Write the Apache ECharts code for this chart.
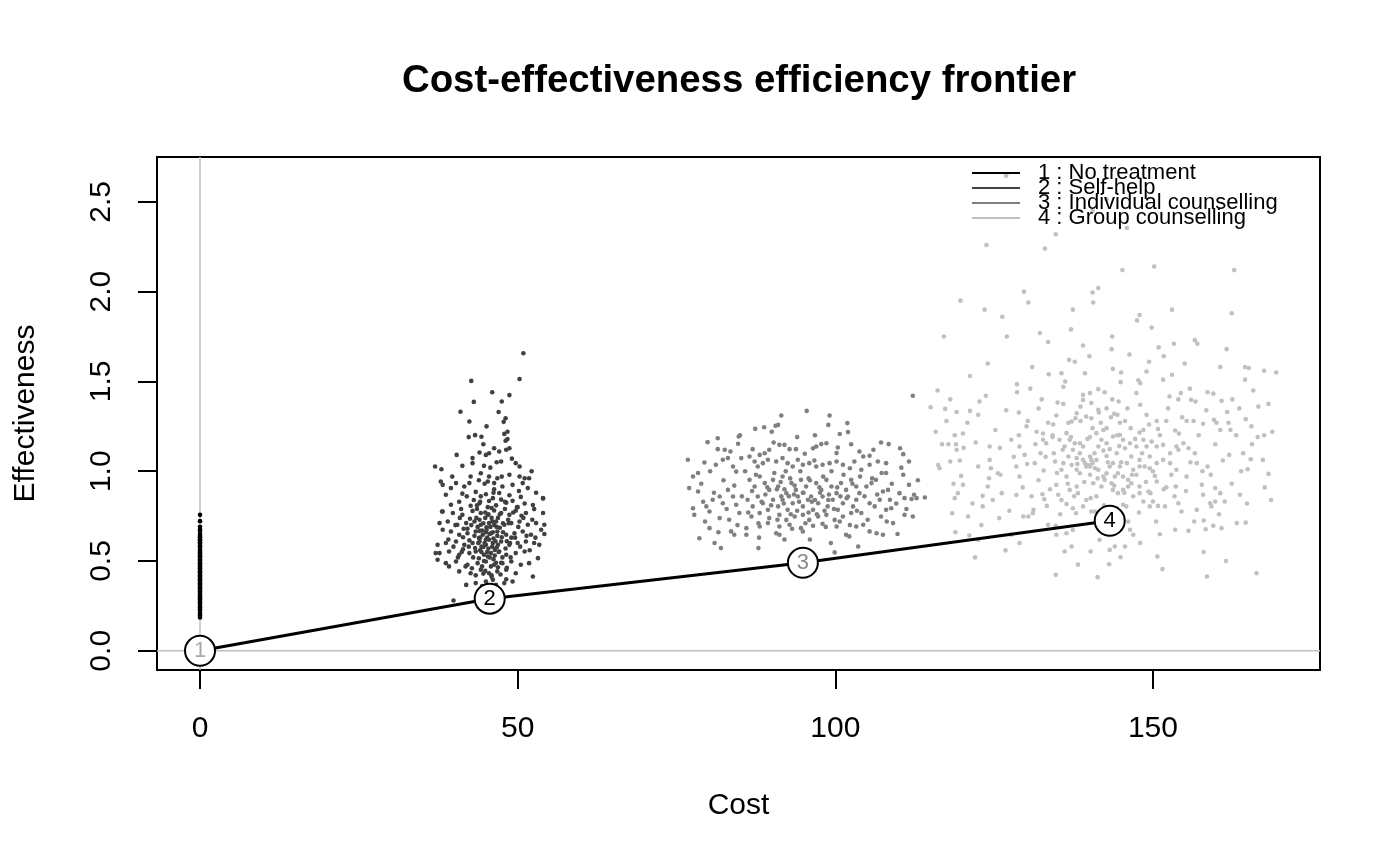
<!DOCTYPE html>
<html>
<head>
<meta charset="utf-8">
<script src="https://cdn.jsdelivr.net/npm/echarts@6/dist/echarts.min.js"></script>
<style>html,body{margin:0;padding:0;background:#fff}#c{width:1400px;height:866px}</style>
</head>
<body>
<div id="c"></div>
<script>
// ---------- data ----------
const seriesNames = ['1 : No treatment', '2 : Self-help', '3 : Individual counselling', '4 : Group counselling'];
const seriesColors = ['#000000', '#404040', '#808080', '#c0c0c0'];
const xTicks = [0, 50, 100, 150];
const yTicks = [0, 0.5, 1, 1.5, 2, 2.5];
const xMin = -6.77, xMax = 176.3, yMin = -0.107, yMax = 2.75;

// frontier (strategies on the efficiency frontier)
const frontierLabels = ['1', '2', '3', '4'];
const frontierCost = [0, 45.6, 94.9, 143.2];
const frontierEff = [0, 0.29, 0.49, 0.724];
const frontierLabelColors = ['#a8a8a8', '#000000', '#8a8a8a', '#000000'];

// group 1: cost is 0 for every simulation
const g1Cost = 0;
const g1Eff = [0.757,0.722,0.691,0.676,0.668,0.652,0.641,0.633,0.621,0.615,0.604,0.597,0.588,0.579,0.574,0.563,0.556,0.548,0.541,0.533,0.527,0.519,0.508,0.503,0.495,0.487,0.481,0.472,0.466,0.458,0.451,0.443,0.437,0.429,0.421,0.414,0.405,0.399,0.391,0.384,0.376,0.369,0.361,0.353,0.347,0.338,0.331,0.323,0.316,0.307,0.301,0.293,0.286,0.277,0.269,0.262,0.251,0.243,0.232,0.221,0.208,0.196,0.186];

const g2Points = [
[50.9,1.657],[50.3,1.514],[42.7,1.503],[46.0,1.44],[48.7,1.424],[43.1,1.386],[47.5,1.388],[41.0,1.331],[42.4,1.277],[48.1,1.295],[47.8,1.275],[47.9,1.208],[42.3,1.19],[43.3,1.201],[44.3,1.192],[48.4,1.179],[48.1,1.17],
[40.4,1.091],[42.9,1.073],[44.0,1.104],[45.5,1.1],[46.3,1.128],[47.1,1.11],[48.2,1.12],[48.7,1.128],[45.0,1.091],[47.4,1.054],[49.7,1.045],[50.3,1.026],[37.0,1.026],[38.0,1.011],[41.3,1.03],[42.9,1.045],[44.7,1.03],[42.6,0.971],[44.2,0.989],[45.5,0.971],[46.8,0.961],[48.7,0.98],[50.3,0.971],[51.1,0.961],[51.8,0.961],
[37.9,0.943],[38.2,0.924],[39.5,0.906],[40.3,0.934],[41.6,0.915],[42.4,0.934],[45.3,0.943],[46.3,0.934],[47.6,0.915],[49.2,0.924],[50.8,0.934],[51.6,0.906],
[38.7,0.869],[41.3,0.875],[43.4,0.885],[45.0,0.872],[47.1,0.879],[48.7,0.866],[50.5,0.857],[52.9,0.88],[44.2,0.86],[46.1,0.85],
[39.5,0.813],[40.8,0.83],[42.6,0.808],[44.0,0.822],[45.5,0.834],[46.6,0.81],[48.2,0.825],[49.2,0.835],[51.1,0.82],[52.4,0.812],[54.0,0.848],[43.1,0.84],[47.4,0.842],[50.0,0.8],
[38.2,0.776],[39.8,0.767],[41.3,0.757],[42.9,0.779],[44.2,0.767],[45.3,0.757],[46.3,0.781],[47.4,0.767],[48.7,0.757],[49.7,0.78],[51.3,0.767],[52.6,0.789],[54.0,0.767],[43.6,0.79],[45.9,0.795],[48.0,0.79],[50.6,0.752],
[37.7,0.711],[39.0,0.72],[40.5,0.702],[41.9,0.711],[43.2,0.72],[44.2,0.702],[45.5,0.711],[46.6,0.72],[47.9,0.702],[49.0,0.711],[50.3,0.72],[51.6,0.702],[52.9,0.711],[54.2,0.702],[42.5,0.735],[44.9,0.74],[46.9,0.74],[48.5,0.73],[40.9,0.74],[45.1,0.688],[47.2,0.685],[43.7,0.69],
[38.2,0.674],[39.5,0.664],[40.8,0.646],[42.1,0.655],[43.4,0.664],[44.5,0.646],[45.8,0.655],[46.8,0.664],[48.2,0.646],[49.5,0.655],[50.8,0.664],[52.1,0.646],[53.7,0.674],[41.4,0.632],[43.9,0.628],[46.2,0.625],[47.5,0.632],[49.0,0.63],[45.1,0.672],[44.0,0.668],
[37.4,0.59],[38.7,0.6],[40.3,0.609],[41.6,0.59],[42.9,0.6],[44.0,0.609],[45.0,0.59],[46.1,0.6],[47.4,0.609],[48.7,0.59],[50.0,0.6],[51.3,0.609],[52.6,0.6],[44.6,0.578],[46.7,0.575],[43.3,0.572],[48.1,0.57],[45.5,0.618],[42.4,0.615],
[37.7,0.544],[39.2,0.553],[40.8,0.535],[42.4,0.544],[43.4,0.553],[44.7,0.535],[45.8,0.544],[47.1,0.553],[48.2,0.535],[49.7,0.544],[51.1,0.553],[53.2,0.516],[44.1,0.56],[46.4,0.562],[41.4,0.565],[45.3,0.525],[47.6,0.52],[43.9,0.515],
[38.7,0.488],[40.3,0.497],[42.1,0.479],[43.7,0.488],[45.0,0.497],[46.3,0.479],[47.6,0.488],[49.0,0.497],[50.5,0.479],[51.8,0.488],[39.2,0.47],[44.4,0.47],[46.9,0.465],[42.8,0.46],[48.3,0.462],
[40.8,0.442],[42.6,0.432],[44.2,0.452],[45.5,0.432],[46.8,0.442],[48.2,0.452],[49.7,0.432],[52.4,0.414],[43.4,0.42],[45.9,0.412],[47.3,0.425],[44.9,0.445],
[41.9,0.367],[43.4,0.377],[45.0,0.386],[46.6,0.367],[47.9,0.377],[49.2,0.386],[48.2,0.398],[44.4,0.36],[46.1,0.395],[45.6,0.355],
[39.9,0.28],[37.1,0.544],[37.4,0.507],[38.1,0.776],[54.2,0.65],[54.0,0.85],
[45.2,0.63],[45.7,0.69],[44.8,0.6],[46.0,0.58],[44.3,0.55],[45.6,0.52],[46.5,0.61],[44.6,0.71],[45.9,0.74],[46.3,0.7],[45.0,0.66],[44.1,0.63],[46.8,0.64],[45.4,0.57],[44.7,0.5],[46.2,0.51],
[39.1,0.62],[39.9,0.58],[40.2,0.7],[40.6,0.52],[41.1,0.79],[41.5,0.68],[41.8,0.47],[42.0,0.86],[42.3,0.58],[42.7,0.7],[43.0,0.52],[43.5,0.74],[43.8,0.6],[44.1,0.83],[44.4,0.67],[44.6,0.43],[44.9,0.77],[45.2,0.55],[45.3,0.8],[45.6,0.65],[45.8,0.47],[46.0,0.72],[46.2,0.88],[46.4,0.53],[46.7,0.69],[46.9,0.59],[47.2,0.76],[47.4,0.49],[47.7,0.66],[48.0,0.83],[48.3,0.61],[48.6,0.71],[48.9,0.52],[49.3,0.77],[49.6,0.63],[50.1,0.69],[50.4,0.58],[50.9,0.74],[51.4,0.64],[51.9,0.56],[52.3,0.73],[52.8,0.63],[53.4,0.59],[44.0,0.73],[45.0,0.62],[46.1,0.66],[47.0,0.55],[43.2,0.64],[45.4,0.76],[46.6,0.49],[44.3,0.58],[47.7,0.71],[43.6,0.81],[45.9,0.42],[48.8,0.6],[42.1,0.68],[49.9,0.8],[41.2,0.55],[46.3,0.9],[44.8,0.93],[47.5,0.97],[43.9,0.95],[50.2,0.89],[45.7,1.02],[49.1,1.07],[44.6,1.15],[46.7,1.05],[39.7,0.97],[52.2,1.0],[48.4,1.22],[47.0,1.33],[45.1,1.25]
];

const g3Points = [
[91.5,1.31],[95.5,1.336],[99.1,1.31],[98.9,1.258],[101.9,1.268],[102.0,1.218],[100.7,1.207],[87.4,1.236],[88.8,1.245],[90.6,1.253],[91.0,1.258],[84.8,1.193],[81.5,1.184],[79.9,1.162],[84.7,1.153],[76.8,1.064],[79.4,1.049],[107.2,1.16],[108.4,1.151],[110.2,1.128],[110.7,1.095],[111.6,1.054],[114.1,0.854],[112.4,0.869],[112.2,0.748],[112.2,1.42],[112.8,0.85],
[81.5,1.123],[82.6,1.12],[87.0,1.123],[88.1,1.091],[89.6,1.12],[90.3,1.16],[91.2,1.147],[92.0,1.147],[92.8,1.123],[93.8,1.123],[95.2,1.097],[96.5,1.128],[97.0,1.138],[97.8,1.151],[98.6,1.156],[100.4,1.132],[100.2,1.101],[103.8,1.11],[104.4,1.082],[105.4,1.086],
[77.6,0.971],[78.4,0.99],[81.2,1.036],[82.3,1.064],[83.1,1.073],[83.9,1.026],[84.4,0.998],[85.2,1.073],[86.5,1.082],[87.3,1.054],[87.8,1.026],[88.6,1.045],[89.4,1.064],[90.7,1.054],[91.7,1.073],[92.5,1.045],[93.3,1.026],[94.1,1.064],[94.9,1.036],[95.9,1.045],[97.0,1.026],[98.0,1.036],[99.1,1.045],[100.2,1.054],[101.2,1.036],[102.3,1.017],[103.0,1.054],[104.1,1.008],[105.4,1.036],[106.7,1.054],[108.0,1.045],[108.0,0.99],[110.7,0.98],[111.6,0.924],[110.1,0.878],[108.3,0.896],
[77.0,0.906],[78.4,0.887],[77.6,0.794],[77.8,0.757],[79.7,0.804],[80.2,0.776],[80.7,0.841],[81.8,0.859],[82.3,0.822],[83.1,0.896],[83.9,0.859],[84.4,0.813],[81.8,0.739],[83.3,0.73],[84.9,0.767],[80.2,0.683],[78.6,0.627],[81.0,0.6],[82.0,0.572],[83.6,0.665],[84.1,0.646],[86.0,0.683],[86.0,0.646],[87.9,0.572],[88.1,0.692],[89.4,0.711],[90.7,0.655],[91.2,0.646],
[103.3,0.692],[104.4,0.702],[105.4,0.665],[106.5,0.655],[107.5,0.646],[103.6,0.581],[99.9,0.548],[101.7,0.646],[102.2,0.637],[104.1,0.767],[105.4,0.822],[106.2,0.804],[107.0,0.841],[108.0,0.785],[108.6,0.841],[108.8,0.794],[107.2,0.748],[109.1,0.711],[109.8,0.65],[110.9,0.757],[110.9,0.85],[112.0,0.845],[103.8,0.878],[104.9,0.915],[105.7,0.934],[106.4,0.952],[107.5,0.887],[103.3,0.841],
[86.5,0.952],[87.3,0.915],[88.1,0.971],[88.9,0.934],[89.6,0.896],[90.2,0.952],[91.0,0.915],[91.7,0.971],[92.3,0.878],[93.1,0.934],[93.8,0.896],[94.6,0.952],[95.4,0.915],[96.2,0.859],[97.0,0.934],[97.8,0.896],[98.6,0.952],[99.4,0.915],[100.2,0.878],[100.9,0.934],[101.7,0.896],[102.5,0.952],[103.3,0.915],
[86.2,0.841],[87.0,0.804],[87.8,0.859],[88.6,0.822],[89.4,0.785],[90.2,0.841],[91.0,0.804],[91.7,0.841],[92.5,0.785],[93.3,0.822],[94.1,0.859],[94.9,0.804],[95.7,0.841],[96.5,0.785],[97.3,0.822],[98.0,0.859],[98.8,0.804],[99.6,0.841],[100.4,0.785],[101.2,0.822],[102.0,0.859],[102.8,0.804],
[86.8,0.748],[88.1,0.767],[89.6,0.739],[91.2,0.757],[92.3,0.729],[93.6,0.748],[94.9,0.757],[95.9,0.729],[97.3,0.748],[98.6,0.757],[99.9,0.729],[101.2,0.748],[102.5,0.767],[91.2,0.692],[92.8,0.702],[94.6,0.683],[96.5,0.696],[98.0,0.707],[100.2,0.692],[94.9,0.664],
[93.5,0.87],[95.0,0.88],[96.8,0.84],[94.3,0.83],[92.0,0.9],[97.5,0.91],[99.0,0.87],[91.5,0.86],[95.8,0.77],[93.0,0.76],[89.0,0.87],[90.8,0.9],[98.3,0.78],[100.8,0.86],[96.0,0.95],[92.9,0.96],
[78.9,0.93],[79.5,0.72],[80.3,1.0],[80.9,0.88],[81.6,0.66],[82.4,0.95],[82.9,0.79],[83.5,1.11],[84.1,0.92],[84.6,0.7],[85.3,0.86],[85.8,1.0],[86.3,0.77],[86.9,0.89],[87.5,0.98],[87.9,0.71],[88.4,0.83],[88.9,1.1],[89.3,0.91],[89.9,0.81],[90.4,0.99],[90.9,0.73],[91.4,0.94],[91.9,0.82],[92.2,1.0],[92.7,0.86],[93.2,0.68],[93.6,0.92],[94.0,0.78],[94.5,1.0],[94.9,0.88],[95.3,0.71],[95.8,0.96],[96.3,0.83],[96.7,1.06],[97.1,0.76],[97.6,0.88],[98.1,0.97],[98.5,0.69],[98.9,0.84],[99.4,1.0],[99.8,0.79],[100.3,0.91],[100.7,0.72],[101.3,0.98],[101.8,0.85],[102.3,0.7],[102.7,0.93],[103.4,0.78],[103.9,0.97],[104.6,0.86],[105.1,0.73],[105.8,0.96],[106.6,0.87],[107.3,0.99],[108.1,0.72],[108.9,0.93],[109.6,0.82],[110.4,1.02],[111.2,0.79],[96.0,0.62],[92.0,0.62],[99.3,0.6],[88.0,0.63],[85.0,1.2],[90.0,1.22],[96.8,1.2],[102.5,1.15],[79.2,0.83],[106.0,1.12],[94.0,1.19],[113.0,0.95]
];

const g4Points = [
[126.9,2.645],[142.7,2.515],[140.5,2.45],[145.9,2.355],[134.7,2.32],[123.8,2.26],[133.0,2.24],
[145.2,2.12],[150.2,2.14],[162.8,2.12],[129.7,2.0],[141.4,2.02],[140.5,1.995],[140.6,1.94],[119.7,1.95],[130.4,1.94],[123.5,1.9],[126.3,1.86],[137.4,1.9],[147.9,1.87],[147.5,1.84],[162.4,1.88],[149.8,1.8],[137.1,1.79],[117.1,1.75],[132.2,1.77],[133.5,1.72],[143.6,1.75],[143.5,1.68],[150.9,1.69],[153.3,1.71],[156.6,1.73],[157.0,1.71],[146.3,1.65],[151.7,1.64],[161.6,1.68],[121.2,1.53],[136.8,1.62],[137.7,1.61],[140.0,1.64],[143.7,1.57],[149.4,1.61],[149.0,1.555],[160.6,1.58],[164.5,1.58],[165.1,1.575],[167.5,1.56],[169.4,1.55],[133.6,1.54],[135.6,1.546],[139.3,1.546],[144.9,1.496],[147.7,1.507],[148.0,1.49],[151.6,1.51],[153.0,1.537],[164.5,1.51],[128.6,1.485],[128.6,1.44],[130.7,1.46],[135.9,1.47],[116.1,1.45],[118.1,1.40],[115.0,1.356],[117.3,1.347],[119.1,1.33],[121.2,1.336],[122.7,1.388],[122.5,1.314],[128.9,1.327],[132.0,1.35],[135.0,1.383],[135.9,1.375],[139.0,1.425],[140.1,1.435],[141.4,1.457],[142.4,1.44],[143.6,1.40],[144.6,1.388],[147.4,1.435],[148.0,1.37],[149.0,1.314],[152.6,1.416],[154.0,1.40],[154.4,1.435],[155.8,1.46],[156.0,1.398],[156.7,1.388],[158.6,1.44],[159.5,1.432],[160.8,1.392],[162.5,1.40],[163.6,1.35],[168.2,1.375],[164.6,1.29],[165.5,1.25],[167.5,1.20],[166.5,1.19],
[130.1,1.25],[130.3,1.28],[131.7,1.22],[132.7,1.21],[133.5,1.27],[134.3,1.26],[134.8,1.31],[136.7,1.27],[137.8,1.295],[138.6,1.28],[139.5,1.305],[140.5,1.24],[140.3,1.295],[141.5,1.327],[142.2,1.23],[142.7,1.24],[143.9,1.32],[144.4,1.314],[144.8,1.27],[145.6,1.28],[146.5,1.24],[147.9,1.216],[148.5,1.23],[150.6,1.28],[150.8,1.235],[152.1,1.28],[153.5,1.227],[154.1,1.21],[155.3,1.28],[156.4,1.28],[157.9,1.264],[159.6,1.286],[160.0,1.27],[160.6,1.23],[161.9,1.27],[162.2,1.23],
[116.8,1.15],[117.8,1.15],[118.8,1.20],[120.1,1.21],[119.1,1.12],[120.2,1.13],[116.2,1.035],[116.4,1.017],[118.1,1.054],[119.8,0.974],[120.1,0.924],[124.3,1.138],[125.9,1.13],[124.3,1.063],[124.5,1.017],[125.6,0.989],[124.2,0.961],[124.0,0.915],[122.5,1.026],[119.3,0.878],[118.8,0.85],[118.4,0.766],[120.9,0.748],[123.2,0.804],[123.2,0.863],[126.2,0.878],[125.8,0.739],[118.9,0.66],[121.1,0.642],[122.5,0.618],[126.8,0.559],[127.7,1.175],[129.0,1.138],[129.8,1.091],[128.5,1.026],[129.0,0.97],[128.5,0.868],[129.6,0.748],[131.1,0.766],[131.2,0.785],[131.4,1.045],[132.3,1.10],[132.7,1.175],[133.2,1.156],[134.2,1.19],[134.4,1.10],[134.6,1.054],[132.8,1.004],[132.6,0.872],[132.9,0.844],[133.3,0.807],[134.8,0.924],[135.1,0.869],[135.6,0.84],[136.4,0.817],[134.7,0.696],[134.7,0.423],[136.1,0.553],[137.2,0.581],[137.4,0.673],[137.4,0.794],[137.9,0.766],
[138.5,1.10],[139.0,1.063],[139.3,1.045],[139.8,1.035],[140.1,1.026],[140.5,1.045],[140.9,1.017],[140.1,1.082],[141.1,1.063],[138.0,1.073],[138.5,1.156],[139.0,1.138],[140.1,1.19],[141.4,1.138],[142.2,1.115],[142.7,1.085],[143.2,1.123],[144.3,1.10],[144.7,1.14],[143.7,1.045],[144.8,1.026],[145.9,1.045],[142.2,0.97],[142.4,0.952],[143.5,0.933],[144.5,0.989],[145.3,0.97],[146.1,0.952],[146.6,0.933],[147.9,0.915],[147.4,0.98],[147.9,1.026],[148.7,1.026],[149.5,1.017],[150.3,0.974],[150.6,0.943],[149.3,0.887],[149.6,0.878],[150.0,0.831],[150.8,0.807],[151.9,0.804],[152.1,0.911],[151.6,1.063],[152.7,1.045],[153.7,1.008],[153.6,0.915],[154.0,0.822],[154.5,0.776],[155.3,0.97],[155.6,1.128],[156.6,1.10],[156.9,1.045],[157.7,0.924],[157.9,0.869],[158.6,1.026],[159.0,0.822],[159.2,0.804],[159.8,0.906],[159.8,0.831],[160.6,0.878],[161.3,0.831],[162.0,1.091],[163.7,0.869],[164.2,1.10],[165.4,1.067],[164.9,1.011],[167.3,1.063],[168.2,0.985],[168.6,0.84],[164.6,0.714],[163.2,0.711],[160.8,0.683],[159.5,0.696],[158.0,0.726],[158.3,0.677],[156.9,0.785],[155.6,0.668],[153.5,0.674],[151.1,0.649],[150.7,0.525],[151.5,0.455],[158.5,0.414],[166.3,0.432],[146.9,0.646],[145.6,0.581],[144.9,0.521],[144.0,0.581],[143.2,0.562],[143.1,0.482],[141.3,0.41],[141.6,0.618],[140.2,0.553],[136.4,0.655],[134.8,0.646],[133.5,0.702],[130.4,0.748],[127.7,0.646],
[144.3,0.794],[145.3,0.813],[145.8,0.804],[146.1,0.72],[146.4,0.674],[139.0,0.804],[140.3,0.776],[140.9,0.776],[139.5,0.84],[141.1,0.86],[138.2,0.878],[136.9,0.896],[138.0,0.915],
[139.0,1.397],[140.3,1.38],[141.4,1.342],[142.7,1.35],[138.0,1.323],[137.2,1.277],[136.4,1.212],[135.3,1.175],[136.1,1.138],[136.9,1.175],[137.7,1.156],[137.4,1.12],[136.7,1.082],[135.9,1.045],[137.2,1.035],[135.6,1.008],[136.4,0.97],[138.0,1.008],[138.5,0.989],[139.5,1.026],[140.3,1.063],[141.4,1.008],[140.1,0.98],[140.6,0.933],[141.9,0.915],[142.7,0.989],[143.2,1.026],[144.0,0.97],[141.1,1.212],[141.9,1.175],[142.7,1.156],[143.7,1.193],[144.8,1.202],[145.3,1.175],[146.4,1.156],[147.4,1.138],[148.5,1.175],[149.0,1.138],[149.8,1.165],[150.6,1.138],[151.6,1.147],[152.7,1.10],[153.7,1.138],[154.8,1.156],[145.6,1.128],[146.6,1.082],[147.9,1.063],[149.5,1.082],[150.6,1.045],[146.9,1.008],[146.1,0.915],[147.9,0.878],[146.9,0.86],[148.5,0.831],[149.5,0.804],[143.7,0.896],[144.5,0.878],[145.3,0.896],
[117.5,1.28],[118.6,0.93],[119.6,1.06],[120.8,1.27],[121.6,0.82],[122.1,1.16],[123.0,0.7],[123.7,1.42],[124.8,0.84],[125.2,1.23],[126.0,0.98],[126.9,1.34],[127.4,0.78],[128.1,1.08],[128.9,1.2],[129.5,0.91],[130.2,1.04],[130.9,0.86],[131.5,1.15],[132.0,0.95],[132.5,1.4],[133.1,1.08],[133.8,0.9],[134.2,1.2],[134.9,0.99],[135.4,0.76],[135.8,1.12],[136.2,1.5],[136.6,0.93],[137.1,1.19],[137.6,0.86],[138.1,1.04],[138.6,1.36],[139.2,0.94],[139.7,1.18],[140.2,0.85],[140.8,1.1],[141.3,0.96],[141.8,1.27],[142.3,0.81],[142.9,1.05],[143.4,1.3],[143.9,0.92],[144.4,1.2],[145.0,1.05],[145.5,0.88],[146.0,1.35],[146.7,0.98],[147.2,1.18],[147.8,0.77],[148.3,1.1],[148.9,0.94],[149.4,1.26],[150.0,1.0],[150.5,0.72],[151.1,1.2],[151.7,0.9],[152.4,1.35],[152.9,0.98],[153.4,0.86],[154.0,1.12],[154.6,1.3],[155.2,0.89],[155.9,1.05],[156.5,0.72],[157.2,1.2],[157.8,1.0],[158.4,1.34],[159.1,0.98],[159.8,1.15],[160.4,0.76],[161.0,1.06],[161.7,1.33],[162.4,0.93],[163.1,1.2],[163.9,1.0],[164.8,0.82],[165.6,1.15],[166.6,1.36],[167.6,0.91],[168.8,1.22],[131.0,1.58],[145.0,1.55],[155.0,1.6],[139.0,1.7],[124.0,1.6],[158.0,0.55],[129.0,0.6],[148.0,0.6],[161.5,0.5],[122.0,0.52],[138.2,0.48],[153.0,1.9],[127.0,1.75],[165.8,1.45],[119.0,1.15],[115.8,1.22]
];

// ---------- chart ----------
const FONT = '"Liberation Sans", Arial, Helvetica, sans-serif';
const chart = echarts.init(document.getElementById('c'), null, {renderer: 'canvas'});

const groups = [g1Eff.map(e => [g1Cost, e]), g2Points, g3Points, g4Points];

const scatterSeries = groups.map((pts, i) => ({
  name: seriesNames[i],
  type: 'scatter',
  data: pts,
  symbol: 'circle',
  symbolSize: 4.6,
  itemStyle: {color: seriesColors[i], opacity: 1},
  silent: true,
  z: 3
}));

const refLine = (data) => ({
  type: 'line',
  data: data,
  symbol: 'none',
  silent: true,
  lineStyle: {color: '#c0c0c0', width: 1.5},
  z: 1
});

const option = {
  animation: false,
  backgroundColor: '#ffffff',
  title: {
    text: 'Cost-effectiveness efficiency frontier',
    left: 734,
    textAlign: 'center',
    top: 57,
    textStyle: {fontFamily: FONT, fontWeight: 'bold', fontSize: 38.4, color: '#000'}
  },
  legend: {
    left: 967,
    top: 157,
    orient: 'vertical',
    itemWidth: 48,
    itemHeight: 2,
    itemGap: -7,
    selectedMode: false,
    textStyle: {fontFamily: FONT, fontSize: 22, color: '#000', padding: [0, 0, 0, 13]},
    data: seriesNames.map((n, i) => ({name: n, icon: 'rect', itemStyle: {color: seriesColors[i]}}))
  },
  grid: {
    left: 157, top: 157, right: 80, bottom: 196,
    show: true, borderColor: '#000', borderWidth: 2, backgroundColor: 'transparent'
  },
  xAxis: {
    type: 'value',
    min: xMin, max: xMax,
    name: 'Cost',
    nameLocation: 'middle',
    nameGap: 121,
    nameTextStyle: {fontFamily: FONT, fontSize: 30, color: '#000'},
    axisLine: {show: false, onZero: false},
    splitLine: {show: false},
    axisTick: {show: true, inside: false, length: 19, lineStyle: {color: '#000', width: 2}, customValues: xTicks},
    axisLabel: {fontFamily: FONT, fontSize: 30, color: '#000', margin: 44, customValues: xTicks, formatter: v => String(v)}
  },
  yAxis: {
    type: 'value',
    min: yMin, max: yMax,
    name: 'Effectiveness',
    nameLocation: 'middle',
    nameGap: 116,
    nameRotate: 90,
    nameTextStyle: {fontFamily: FONT, fontSize: 30, color: '#000'},
    axisLine: {show: false, onZero: false},
    splitLine: {show: false},
    axisTick: {show: true, inside: false, length: 19, lineStyle: {color: '#000', width: 2}, customValues: yTicks},
    axisLabel: {fontFamily: FONT, fontSize: 30, color: '#000', margin: 40, rotate: 90, customValues: yTicks, formatter: v => v.toFixed(1)}
  },
  series: [
    refLine([[0, yMin], [0, yMax]]),
    refLine([[xMin, 0], [xMax, 0]]),
    ...scatterSeries,
    {
      type: 'line',
      name: 'frontier',
      data: frontierCost.map((c, i) => ({
        value: [c, frontierEff[i]],
        label: {color: frontierLabelColors[i]}
      })),
      lineStyle: {color: '#000', width: 3},
      symbol: 'circle',
      symbolSize: 30,
      showAllSymbol: true,
      itemStyle: {color: '#fff', borderColor: '#000', borderWidth: 2},
      label: {
        show: true,
        position: 'inside',
        fontFamily: FONT,
        fontSize: 22,
        formatter: p => frontierLabels[p.dataIndex]
      },
      silent: true,
      z: 10
    }
  ]
};
chart.setOption(option);
</script>
</body>
</html>
